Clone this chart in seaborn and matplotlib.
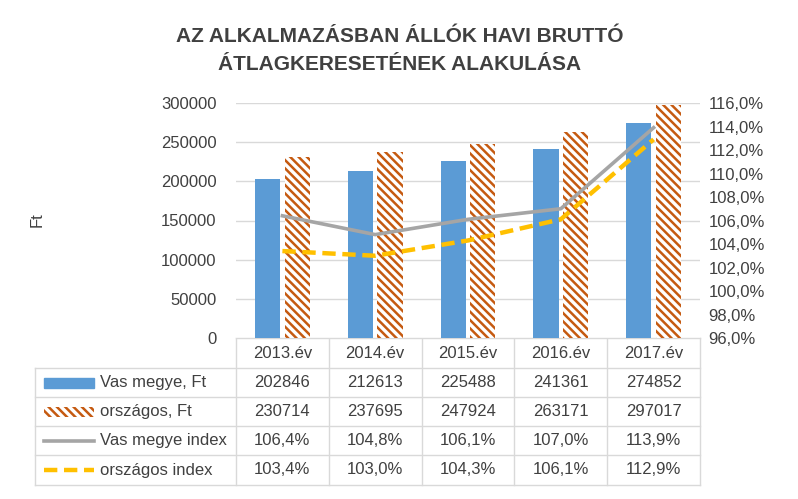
import pandas as pd
import seaborn as sns
import matplotlib.pyplot as plt
import matplotlib.patches as mpatches
from matplotlib.lines import Line2D
from matplotlib.ticker import FuncFormatter

years = ['2013.év', '2014.év', '2015.év', '2016.év', '2017.év']
vas_ft = [202846, 212613, 225488, 241361, 274852]
orsz_ft = [230714, 237695, 247924, 263171, 297017]
vas_idx = [106.4, 104.8, 106.1, 107.0, 113.9]
orsz_idx = [103.4, 103.0, 104.3, 106.1, 112.9]

blue = '#5B9BD5'
brown = '#C55A11'
grey = '#A5A5A5'
yellow = '#FFC000'
txt = '#404040'
linec = '#D9D9D9'

plt.rcParams['font.family'] = 'Liberation Sans'
plt.rcParams['hatch.linewidth'] = 1.8

W, H = 798, 499
fig = plt.figure(figsize=(W / 100, H / 100), dpi=100)

def fx(px): return px / W
def fy(py): return 1 - py / H

x0, x1, ytop, ybot = 236, 700, 103, 338
ax = fig.add_axes([fx(x0), fy(ybot), fx(x1) - fx(x0), fy(ytop) - fy(ybot)])

df = pd.DataFrame({
    'year': years * 2,
    'value': vas_ft + orsz_ft,
    'series': ['Vas megye, Ft'] * 5 + ['országos, Ft'] * 5,
})
sns.barplot(data=df, x='year', y='value', hue='series', ax=ax, saturation=1,
            palette=[blue, 'white'], width=0.64, gap=0.15, legend=False)
for p in ax.patches[5:10]:
    p.set_hatch('\\\\\\\\')
    p.set_edgecolor(brown)
    p.set_linewidth(0)

ax.set_ylim(0, 300000)
ax.set_yticks(range(0, 300001, 50000))
ax.set_xlim(-0.5, 4.5)
ax.set_xticks([])
ax.set_xlabel('')
ax.set_ylabel('')
ax.grid(axis='y', color=linec, linewidth=1)
ax.set_axisbelow(True)
for s in ax.spines.values():
    s.set_visible(False)
ax.tick_params(axis='y', length=0, labelsize=12, labelcolor=txt, pad=14)

ax2 = ax.twinx()
pos = list(range(5))
sns.lineplot(x=pos, y=vas_idx, ax=ax2, color=grey, linewidth=2.6)
sns.lineplot(x=pos, y=orsz_idx, ax=ax2, color=yellow, linewidth=3.2, linestyle=(0, (3, 1.5)))
ax2.set_ylim(96, 116)
ax2.set_yticks(range(96, 117, 2))
ax2.yaxis.set_major_formatter(FuncFormatter(lambda v, _: f'{v:.1f}%'.replace('.', ',')))
for s in ax2.spines.values():
    s.set_visible(False)
ax2.tick_params(axis='y', length=0, labelsize=12, labelcolor=txt, pad=6)
ax2.set_xlim(-0.5, 4.5)

fig.text(fx(37), fy(220), 'Ft', rotation=90, fontsize=12, color=txt, ha='center', va='center')
fig.text(fx(400), fy(36), 'AZ ALKALMAZÁSBAN ÁLLÓK HAVI BRUTTÓ', fontsize=15, fontweight='bold',
         color=txt, ha='center', va='center')
fig.text(fx(400), fy(64), 'ÁTLAGKERESETÉNEK ALAKULÁSA', fontsize=15, fontweight='bold',
         color=txt, ha='center', va='center')

# data table
cols = [x0 + i * (x1 - x0) / 5 for i in range(6)]
rows = [338, 368, 397, 426, 455, 485]
tl = 35
bg = fig.add_axes([0, 0, 1, 1], zorder=-1)
bg.set_axis_off()
bg.set_xlim(0, W)
bg.set_ylim(H, 0)
for r in rows:
    bg.plot([tl if r != rows[0] else x0, x1], [r, r], color=linec, lw=1)
for c in cols:
    bg.plot([c, c], [rows[0], rows[-1]], color=linec, lw=1)
bg.plot([tl, tl], [rows[1], rows[-1]], color=linec, lw=1)

for i, y in enumerate(years):
    bg.text((cols[i] + cols[i + 1]) / 2, (rows[0] + rows[1]) / 2, y, fontsize=12, color=txt,
            ha='center', va='center')
labels = ['Vas megye, Ft', 'országos, Ft', 'Vas megye index', 'országos index']
vals = [[str(v) for v in vas_ft], [str(v) for v in orsz_ft],
        [f'{v:.1f}%'.replace('.', ',') for v in vas_idx],
        [f'{v:.1f}%'.replace('.', ',') for v in orsz_idx]]
for k in range(4):
    yc = (rows[k + 1] + rows[k + 2]) / 2
    if k == 0:
        bg.add_patch(mpatches.Rectangle((44, yc - 5), 50, 10, color=blue))
    elif k == 1:
        bg.add_patch(mpatches.Rectangle((44, yc - 5), 50, 10, facecolor='white', edgecolor=brown,
                                        linewidth=0, hatch='\\\\\\\\'))
    elif k == 2:
        bg.add_line(Line2D([44, 94], [yc, yc], color=grey, lw=2.6))
    else:
        bg.add_line(Line2D([44, 94], [yc, yc], color=yellow, lw=3.2, linestyle=(0, (3, 1.5))))
    bg.text(100, yc, labels[k], fontsize=12, color=txt, ha='left', va='center')
    for i in range(5):
        bg.text((cols[i] + cols[i + 1]) / 2, yc, vals[k][i], fontsize=12, color=txt,
                ha='center', va='center')

fig.savefig('out.png', dpi=100)
